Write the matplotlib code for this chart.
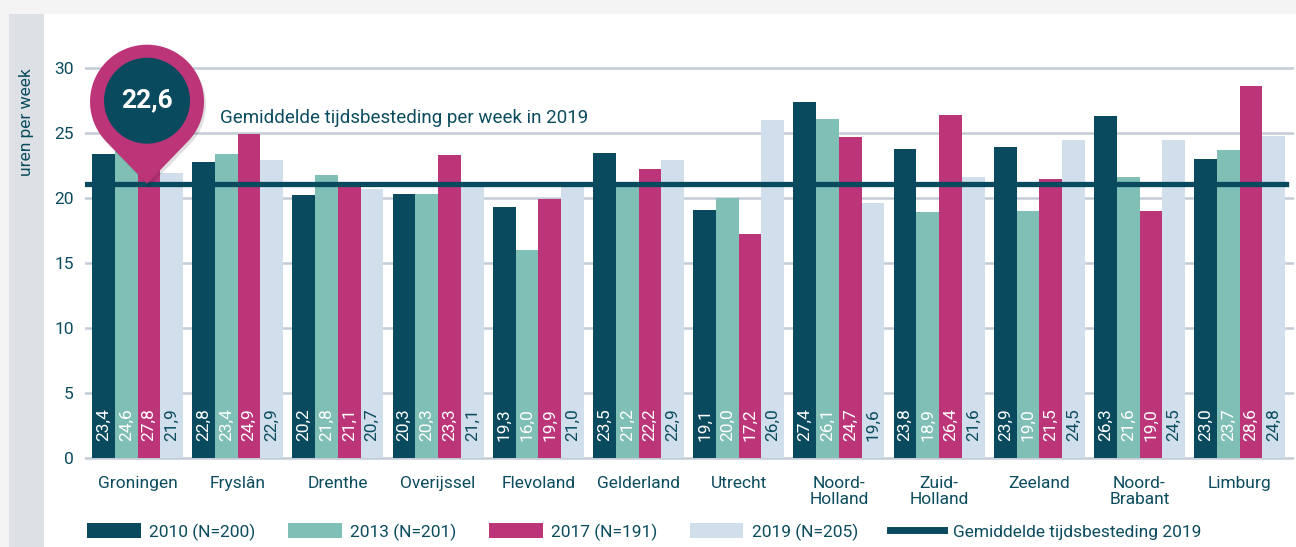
import numpy as np
import matplotlib
matplotlib.use("Agg")
import matplotlib.pyplot as plt
import matplotlib.patches as mpatches
import matplotlib.transforms as mtransforms
from matplotlib.lines import Line2D
from matplotlib import font_manager


provinces = ["Groningen", "Fryslân", "Drenthe", "Overijssel", "Flevoland", "Gelderland",
             "Utrecht", "Noord-\nHolland", "Zuid-\nHolland", "Zeeland", "Noord-\nBrabant", "Limburg"]

values_2010 = [23.4, 22.8, 20.2, 20.3, 19.3, 23.5, 19.1, 27.4, 23.8, 23.9, 26.3, 23.0]
values_2013 = [24.6, 23.4, 21.8, 20.3, 16.0, 21.2, 20.0, 26.1, 18.9, 19.0, 21.6, 23.7]
values_2017 = [27.8, 24.9, 21.1, 23.3, 19.9, 22.2, 17.2, 24.7, 26.4, 21.5, 19.0, 28.6]
values_2019 = [21.9, 22.9, 20.7, 21.1, 21.0, 22.9, 26.0, 19.6, 21.6, 24.5, 24.5, 24.8]

series_labels = ["2010 (N=200)", "2013 (N=201)", "2017 (N=191)", "2019 (N=205)"]
average_2019 = 21.1
average_label = "22,6"

DARK = "#0a4a5e"
MINT = "#80bfb5"
MAGENTA = "#bd3579"
LIGHT = "#d1deec"
GRID = "#c3ccd6"
TEXT = "#0b4c5f"

# pick a narrow font if there is one, DIN-like in the original
installed = {f.name for f in font_manager.fontManager.ttflist}
if "Liberation Sans Narrow" in installed:
    main_font = ["Liberation Sans Narrow", "DejaVu Sans"]
else:
    main_font = ["Roboto", "DejaVu Sans"]
plt.rcParams["font.family"] = main_font

W, H = 1296, 547
fig = plt.figure(figsize=(W / 100, H / 100), dpi=100, facecolor="#f4f4f4")

# white panel + grey strip on the left (pixels)
def px_rect(x0, y0, x1, y1, color):
    fig.patches.append(mpatches.Rectangle((x0 / W, 1 - y1 / H), (x1 - x0) / W, (y1 - y0) / H,
                                          transform=fig.transFigure, color=color, zorder=-5, lw=0))

px_rect(9, 14, W, H, "white")
px_rect(9, 14, 44, H, "#dde1e6")
fig.text(26 / W, 1 - 122 / H, "uren per week", rotation=90, ha="center", va="center",
         color=TEXT, fontsize=12.5, family=["Roboto", "DejaVu Sans"])

# axes placement
ax_left, ax_right = 85, 1294
y_zero, px_per_unit = 458, 13.0
ymin, ymax = -0.3, 32
ax_bottom_px = y_zero - ymin * px_per_unit
ax_top_px = y_zero - ymax * px_per_unit
ax = fig.add_axes([ax_left / W, 1 - ax_bottom_px / H, (ax_right - ax_left) / W,
                   (ax_bottom_px - ax_top_px) / H])
ax.set_facecolor("none")

spacing = 100.2
first_center = 137.5
x = np.arange(len(provinces))
ax.set_xlim((ax_left - first_center) / spacing, (ax_right - first_center) / spacing)
ax.set_ylim(ymin, ymax)

bar_w = 22.75 / spacing
all_series = [values_2010, values_2013, values_2017, values_2019]
colors = [DARK, MINT, MAGENTA, LIGHT]
label_colors = ["white", "white", "white", TEXT]

for i, (vals, col, lcol) in enumerate(zip(all_series, colors, label_colors)):
    pos = x + (i - 1.5) * bar_w
    ax.bar(pos, vals, width=bar_w, color=col, zorder=2, lw=0)
    for xp, v in zip(pos, vals):
        ax.text(xp, 1.3, f"{v:.1f}".replace(".", ","), rotation=90, ha="center", va="bottom",
                color=lcol, fontsize=12.5, zorder=3)

# grid
ax.set_yticks([0, 5, 10, 15, 20, 25, 30])
ax.yaxis.grid(True, color=GRID, lw=1.8, zorder=1)
ax.set_axisbelow(True)
for s in ax.spines.values():
    s.set_visible(False)
ax.tick_params(axis="y", length=0, pad=8, labelsize=12.5, labelcolor=TEXT)
ax.set_xticks(x)
ax.set_xticklabels(provinces, fontsize=12.5, color=TEXT, linespacing=1.1)
ax.tick_params(axis="x", length=0, pad=10)

# average line
ax.axhline(average_2019, xmin=0, xmax=0.9934, color=DARK, lw=3.8, zorder=4)

ax.text((220 - first_center) / spacing, (y_zero - 118) / px_per_unit,
        "Gemiddelde tijdsbesteding per week in 2019", ha="left", va="center",
        color=TEXT, fontsize=13.5, zorder=5)

# pin marker anchored at the average line (display pixels)
tip_x, tip_y = ax.transData.transform((0.095, average_2019))
R = 57
d = 82
cx, cy = tip_x, tip_y + d
a = np.degrees(np.arccos(R / d))
theta = np.radians(np.linspace(-90 + a, 270 - a, 120))
pin_xy = np.column_stack([cx + R * np.cos(theta), cy + R * np.sin(theta)])
pin_xy = np.vstack([pin_xy, [tip_x, tip_y]])
ident = mtransforms.IdentityTransform()
shadow = mpatches.Polygon(pin_xy + [2, -3], closed=True, transform=ident, color="black",
                          alpha=0.12, lw=0, zorder=5, clip_on=False)
pin = mpatches.Polygon(pin_xy, closed=True, transform=ident, color=MAGENTA, lw=0,
                       zorder=6, clip_on=False)
inner = mpatches.Circle((cx, cy + 1), 43, transform=ident, color=DARK, lw=0, zorder=7,
                        clip_on=False)
ax.add_patch(shadow)
ax.add_patch(pin)
ax.add_patch(inner)
ax.text(cx, cy + 1, average_label, transform=ident, ha="center", va="center", color="white",
        fontsize=19, fontweight="bold", zorder=8, family=["Roboto", "DejaVu Sans"])

# legend
handles = [mpatches.Patch(color=c, lw=0) for c in colors]
handles.append(Line2D([0], [0], color=DARK, lw=5))
labels = series_labels + ["Gemiddelde tijdsbesteding 2019"]
fig.legend(handles, labels, loc="center left", bbox_to_anchor=(80 / W, 1 - 532 / H), ncol=5,
           frameon=False, fontsize=12.5, handlelength=3.1, handleheight=0.95,
           columnspacing=1.85, handletextpad=0.5, labelcolor=TEXT, borderaxespad=0)

fig.savefig("out.png", dpi=100, facecolor=fig.get_facecolor())
